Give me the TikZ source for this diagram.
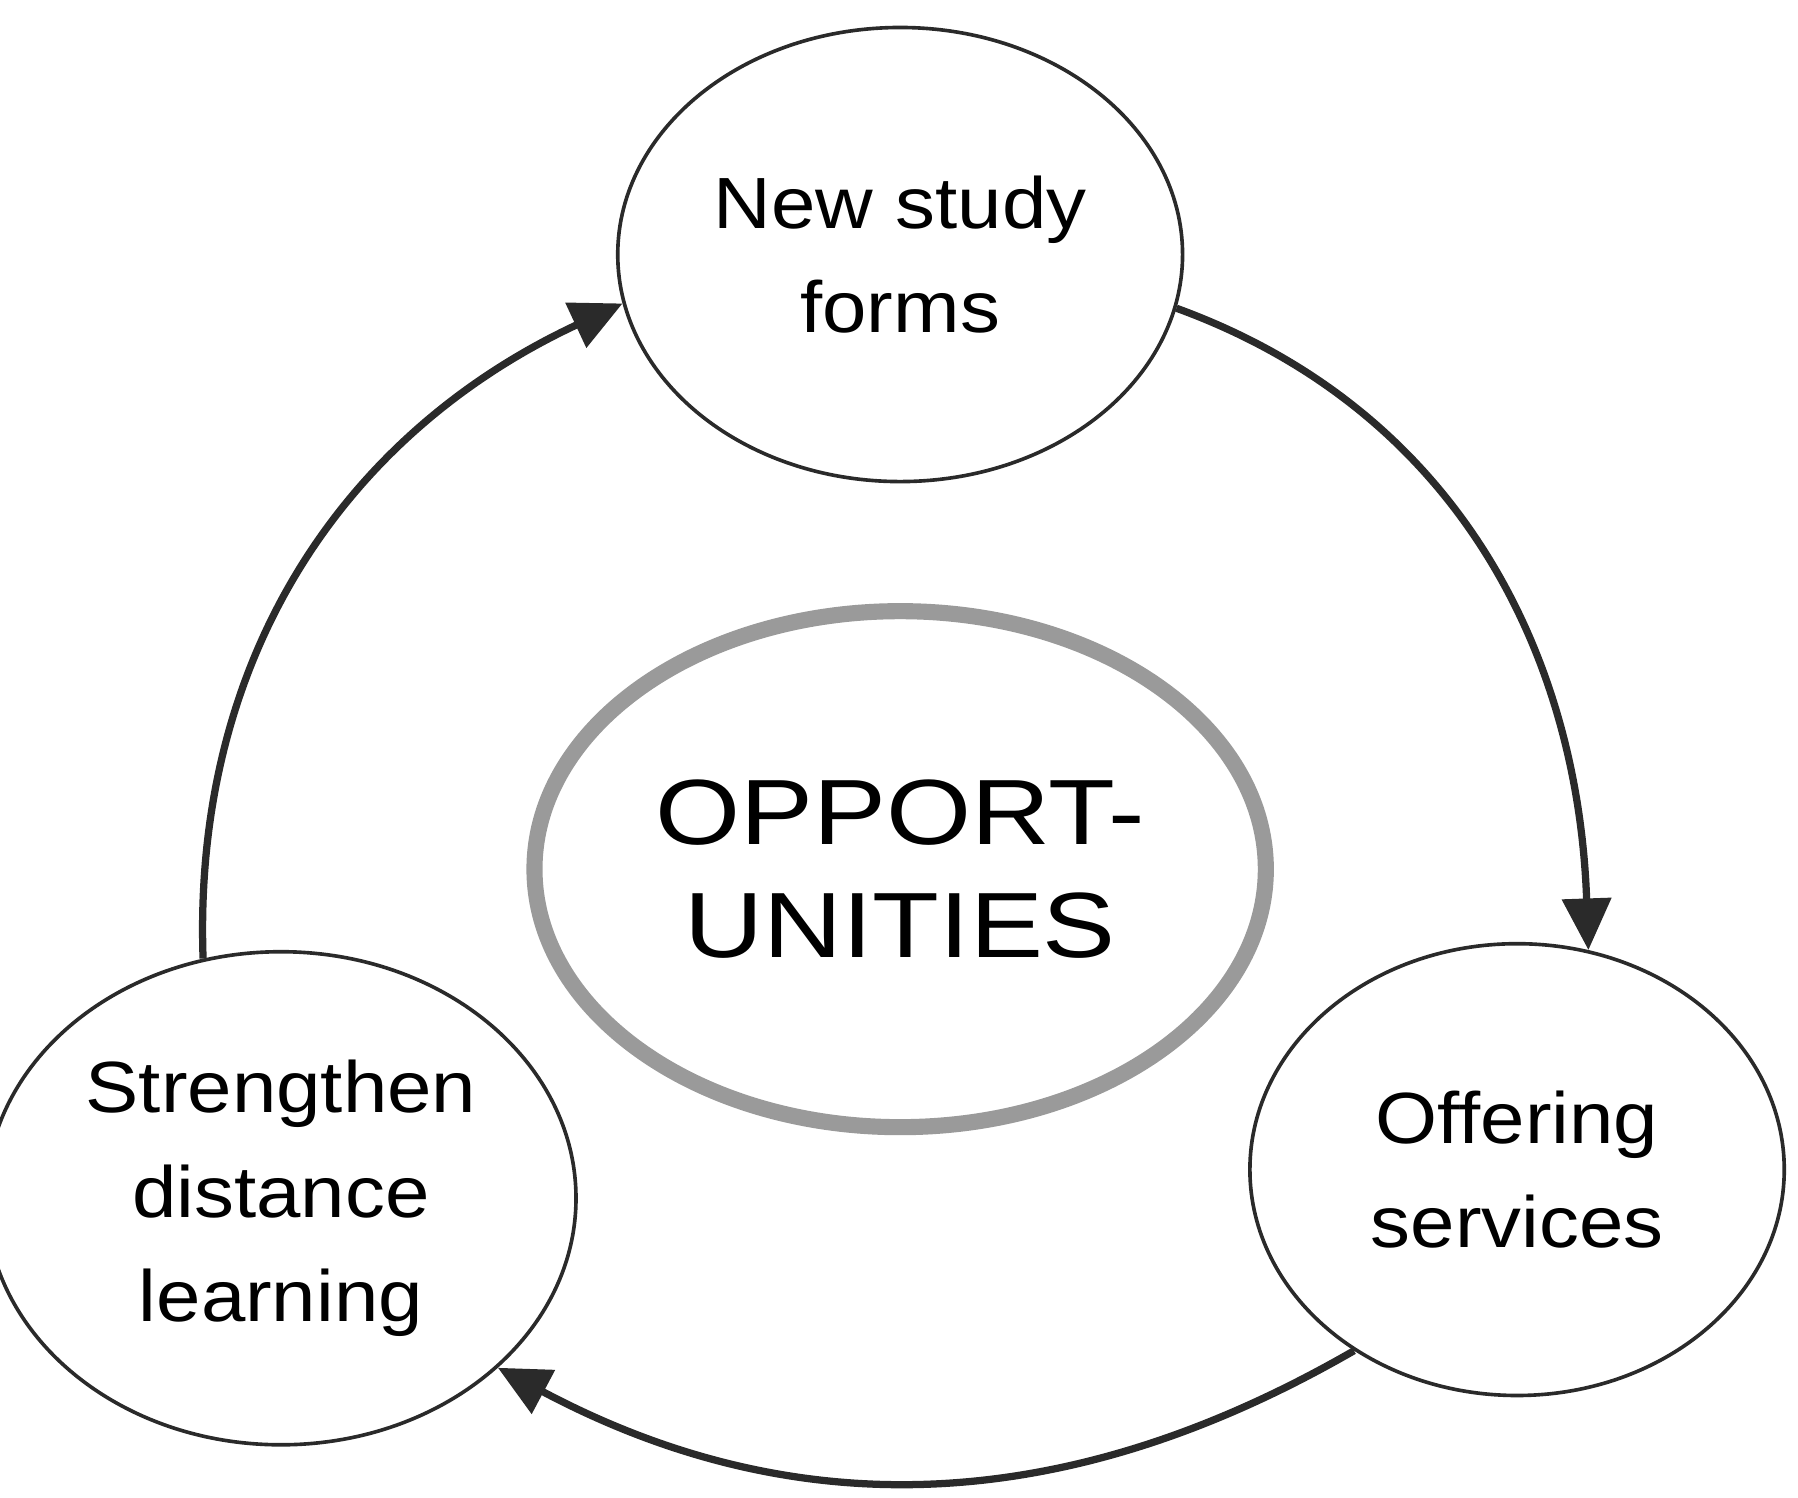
\documentclass[tikz,border=0pt]{standalone}
\usepackage{fontspec}
\setmainfont[FakeStretch=1.1]{Liberation Sans}
\newfontfamily\widesans[FakeStretch=1.18]{Liberation Sans}
\usetikzlibrary{shapes.geometric,arrows.meta}
\definecolor{ink}{HTML}{2A2A2A}
\definecolor{ringgray}{HTML}{9A9A9A}
\tikzset{
	phase/.style={ellipse, draw=ink, line width=0.9pt, align=center, font=\fontsize{18}{26}\selectfont},
	cycle/.style={draw=ink, line width=1.8pt, -{Triangle[length=0.45cm,width=0.42cm]}}
}
\begin{document}
\begin{tikzpicture}
	\useasboundingbox (0,0) rectangle (15.68,13.06);
	\node[phase, minimum width=4.66cm, minimum height=3.96cm] (study) at (7.85,10.84) {New study\\forms};
	\node[phase, minimum width=4.66cm, minimum height=3.94cm] (serv) at (13.23,2.86) {Offering\\services};
	\node[phase, minimum width=4.64cm, minimum height=4.30cm] (dist) at (2.45,2.61) {Strengthen\\distance\\learning};
	\node[ellipse, draw=ringgray, line width=4pt, minimum width=5.3cm, minimum height=4.5cm, align=center, font=\widesans\fontsize{23}{28}\selectfont] (opp) at (7.85,5.48) {OPPORT-\\UNITIES};
	\draw[cycle] (study.-11) to[out=-20, in=92] (serv.72);
	\draw[cycle] (serv.-132) to[out=-150, in=-28] (dist.-38);
	\draw[cycle] (dist.108) to[out=92, in=205] (study.190);
\end{tikzpicture}
\end{document}
